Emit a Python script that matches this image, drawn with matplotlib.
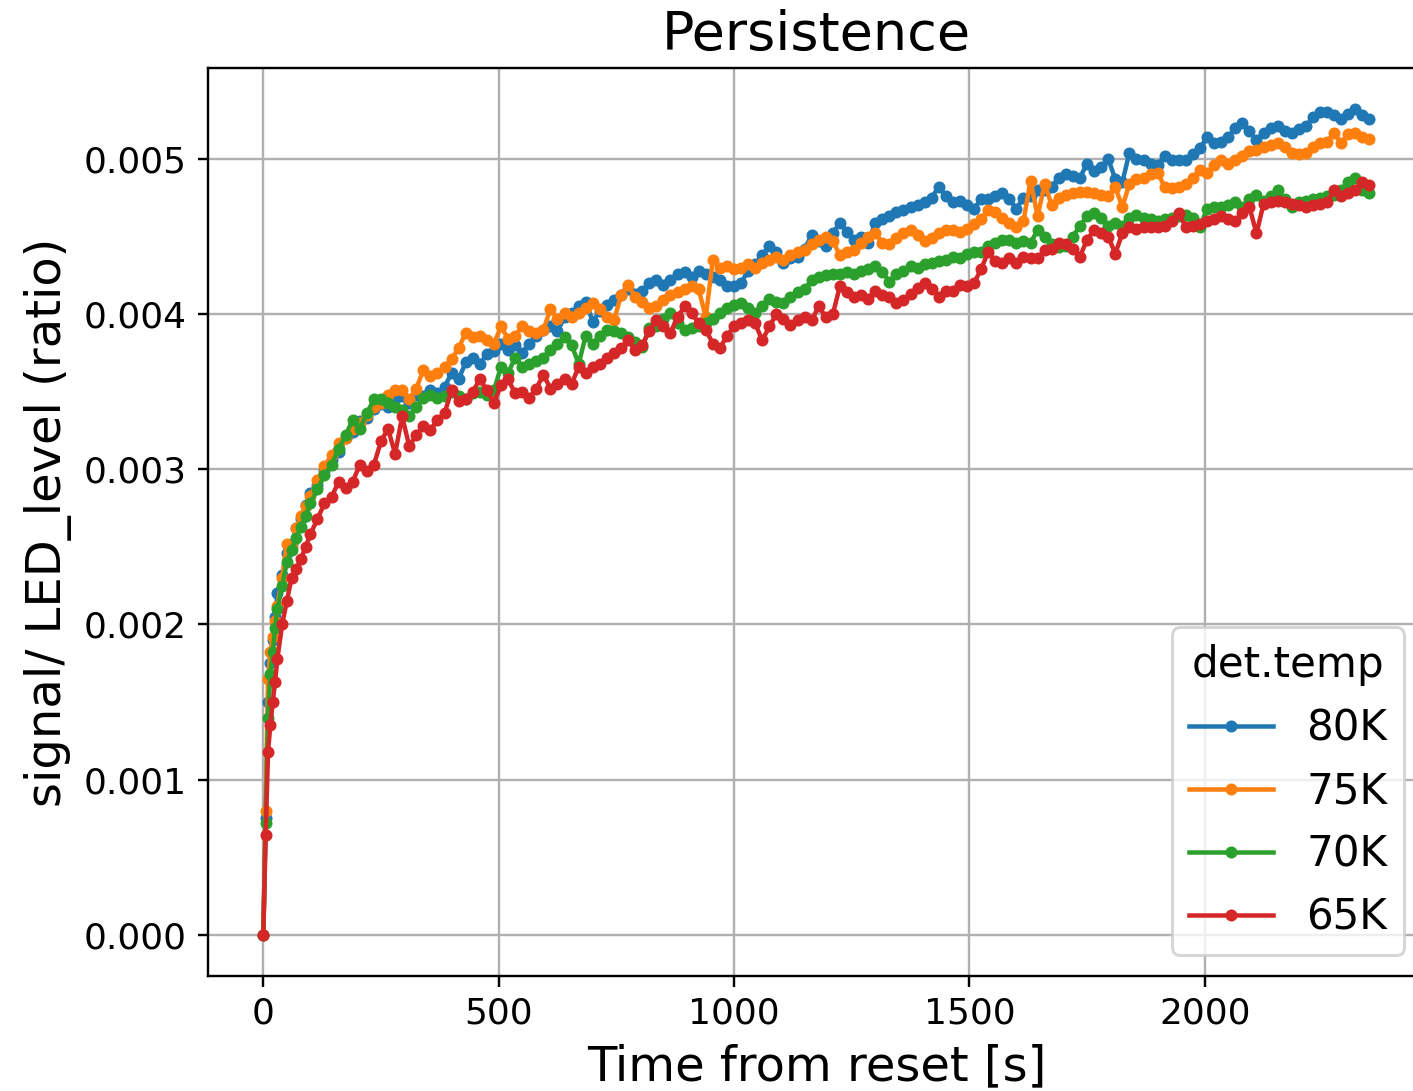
import numpy as np
import matplotlib
matplotlib.use("Agg")
import matplotlib.pyplot as plt

# Frame times [s]: fast sampling right after reset, then a 15 s cadence
t_early = [0, 5, 10, 15, 20, 25, 30, 40, 50, 60, 70, 80, 90]
t_regular = list(range(100, 2351, 15))
time_s = np.array(t_early + t_regular, dtype=float)

# Persistence signal normalised to LED level, in units of 1e-5
sig_80K = [
    0, 75, 150, 175, 190, 205, 220, 232, 246, 252, 262, 268, 277,
    285, 290, 299, 306, 311, 320, 324, 331, 333, 339,
    342, 340, 345, 347, 343, 348, 347, 351, 349, 353,
    362, 358, 369, 372, 368, 374, 376, 381, 377, 380,
    375, 381, 386, 390, 392, 389, 398, 401, 405, 408,
    395, 402, 406, 409, 412, 416, 413, 415, 420, 422,
    419, 422, 426, 427, 424, 428, 426, 424, 422, 418,
    418, 420, 428, 432, 438, 444, 440, 433, 436, 437,
    442, 451, 447, 444, 452, 459, 453, 448, 450, 446,
    459, 461, 463, 466, 467, 469, 470, 472, 475, 482,
    476, 472, 473, 470, 468, 474, 474, 476, 478, 474,
    468, 475, 476, 480, 480, 482, 488, 490, 489, 488,
    497, 492, 495, 500, 487, 485, 504, 500, 499, 497,
    496, 502, 499, 499, 499, 503, 507, 514, 510, 511,
    514, 520, 523, 518, 512, 517, 520, 521, 518, 517,
    519, 521, 527, 530, 530, 528, 526, 529, 532, 528,
    526,
]
sig_75K = [
    0, 80, 165, 182, 192, 202, 212, 230, 252, 250, 262, 270, 276,
    283, 293, 302, 309, 317, 320, 326, 330, 335, 340,
    343, 348, 351, 351, 345, 352, 364, 360, 362, 366,
    371, 378, 388, 385, 386, 383, 381, 392, 384, 386,
    392, 389, 388, 390, 403, 397, 401, 398, 401, 404,
    407, 403, 398, 396, 412, 419, 411, 408, 404, 405,
    409, 412, 414, 416, 418, 416, 398, 435, 430, 431,
    429, 430, 432, 430, 433, 435, 437, 435, 438, 440,
    441, 445, 448, 450, 447, 438, 440, 441, 446, 450,
    452, 446, 445, 449, 452, 454, 451, 447, 449, 452,
    454, 454, 453, 455, 458, 461, 467, 466, 462, 459,
    456, 460, 486, 463, 484, 470, 475, 477, 478, 479,
    479, 478, 477, 476, 482, 469, 484, 487, 488, 490,
    491, 482, 481, 482, 484, 488, 493, 491, 496, 499,
    497, 499, 502, 505, 506, 508, 509, 510, 508, 504,
    503, 504, 508, 510, 511, 517, 510, 516, 517, 514,
    513,
]
sig_70K = [
    0, 72, 140, 168, 182, 198, 210, 225, 240, 248, 256, 263, 270,
    278, 287, 296, 303, 313, 322, 332, 326, 336, 345,
    345, 343, 340, 338, 334, 340, 346, 348, 346, 347,
    350, 347, 345, 349, 350, 348, 351, 366, 362, 372,
    366, 368, 370, 372, 377, 381, 385, 380, 368, 386,
    381, 386, 390, 389, 388, 385, 382, 379, 391, 392,
    397, 401, 394, 390, 391, 392, 394, 397, 401, 404,
    406, 407, 404, 401, 405, 410, 408, 407, 411, 414,
    416, 422, 424, 425, 426, 426, 427, 426, 428, 429,
    431, 427, 421, 426, 428, 431, 430, 432, 433, 434,
    435, 437, 436, 439, 440, 440, 444, 446, 448, 448,
    446, 447, 446, 454, 450, 445, 443, 444, 450, 457,
    463, 465, 462, 457, 459, 457, 462, 464, 462, 461,
    460, 461, 462, 463, 464, 462, 456, 468, 469, 469,
    470, 472, 469, 474, 477, 473, 476, 480, 474, 469,
    472, 473, 474, 475, 476, 477, 480, 485, 488, 480,
    478,
]
sig_65K = [
    0, 64, 118, 135, 150, 163, 178, 200, 215, 230, 236, 242, 250,
    258, 268, 278, 282, 292, 288, 292, 303, 299, 303,
    318, 326, 310, 334, 315, 322, 328, 325, 332, 336,
    351, 344, 345, 350, 358, 351, 343, 354, 358, 349,
    350, 346, 352, 361, 352, 355, 358, 355, 366, 362,
    366, 368, 372, 375, 378, 383, 377, 380, 389, 396,
    392, 388, 398, 405, 401, 394, 390, 381, 378, 386,
    392, 394, 396, 394, 383, 392, 400, 397, 393, 396,
    398, 396, 405, 398, 400, 418, 414, 411, 412, 410,
    415, 412, 411, 407, 409, 413, 417, 420, 416, 411,
    415, 415, 419, 418, 420, 429, 440, 434, 433, 436,
    433, 437, 436, 436, 441, 442, 446, 445, 442, 437,
    448, 454, 452, 450, 439, 452, 456, 455, 456, 456,
    456, 457, 460, 465, 456, 457, 458, 460, 461, 463,
    461, 460, 465, 469, 452, 471, 472, 473, 472, 471,
    470, 469, 470, 471, 472, 480, 476, 478, 480, 485,
    483,
]

labels = ["80K", "75K", "70K", "65K"]
series = [sig_80K, sig_75K, sig_70K, sig_65K]

fig = plt.figure(figsize=(1413 / 216, 1091 / 216), dpi=216)
ax = fig.add_axes([208 / 1413, 115 / 1091, 1217 / 1413, 908 / 1091])

for lab, vals in zip(labels, series):
    ax.plot(time_s, np.array(vals) * 1e-5, ".-", label=lab)

ax.set_xlim(-117.5, 2468)
ax.set_ylim(-0.000266, 0.005586)
ax.grid(True)
ax.tick_params(labelsize=12)
ax.set_title("Persistence", fontsize=18)
ax.set_xlabel("Time from reset [s]", fontsize=16)
ax.set_ylabel("signal/ LED_level (ratio)", fontsize=16)
ax.legend(title="det.temp", loc="lower right", fontsize=14, title_fontsize=14)

fig.savefig("out.png", dpi=216)
